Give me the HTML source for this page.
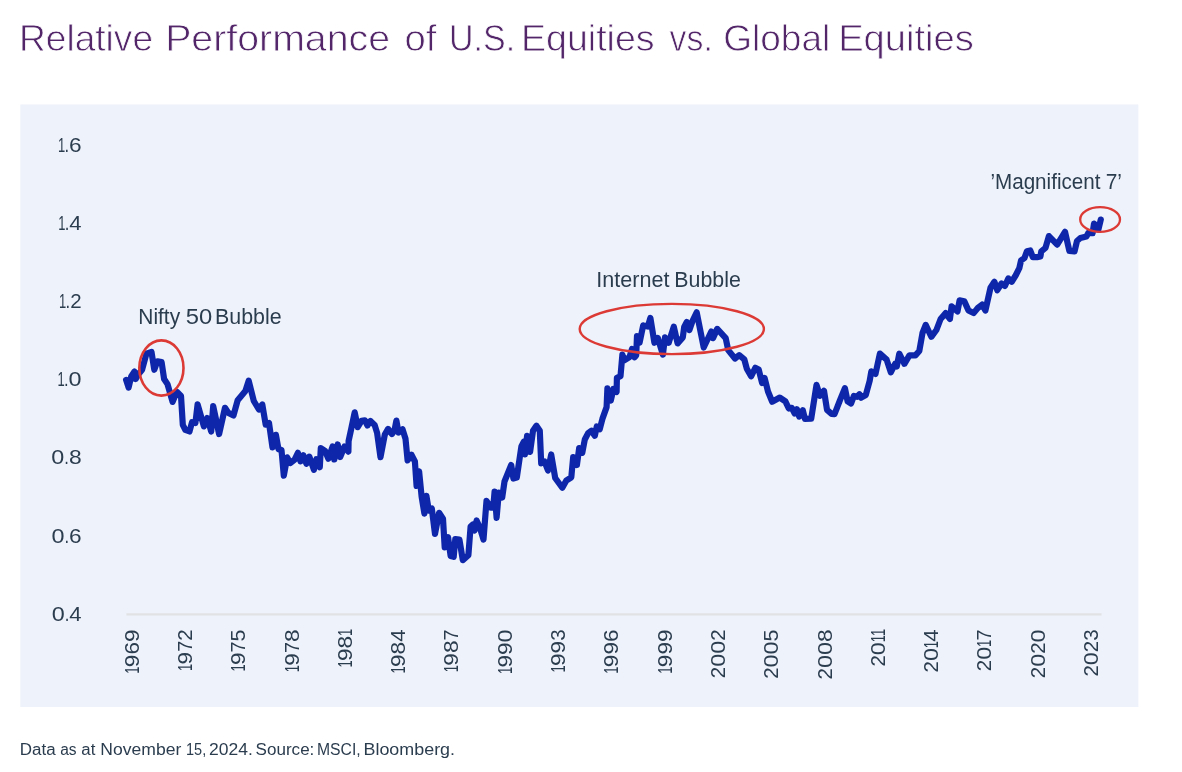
<!DOCTYPE html>
<html lang="en">
<head>
<meta charset="utf-8">
<title>Relative Performance of U.S. Equities vs. Global Equities</title>
<style>
html,body{margin:0;padding:0;background:#fff;}
body{width:1182px;height:772px;overflow:hidden;}
svg{display:block;}
text{font-family:"Liberation Sans",sans-serif;}
</style>
</head>
<body>
<svg width="1182" height="772" viewBox="0 0 1182 772">
<defs><filter id="soft" x="0" y="0" width="1182" height="772" filterUnits="userSpaceOnUse"><feGaussianBlur stdDeviation="0.5"/></filter></defs>
<rect x="0" y="0" width="1182" height="772" fill="#ffffff"/>
<g filter="url(#soft)">
<text y="51.4" font-size="37.5" fill="#52256a" stroke="#ffffff" stroke-width="0.8"><tspan x="18.96" textLength="134.09" lengthAdjust="spacingAndGlyphs">Relative</tspan> <tspan x="165.18" textLength="224.87" lengthAdjust="spacingAndGlyphs">Performance</tspan> <tspan x="404.49" textLength="31.95" lengthAdjust="spacingAndGlyphs">of</tspan> <tspan x="449.08" textLength="66.02" lengthAdjust="spacingAndGlyphs">U.S.</tspan> <tspan x="520.92" textLength="133.74" lengthAdjust="spacingAndGlyphs">Equities</tspan> <tspan x="669.58" textLength="43.20" lengthAdjust="spacingAndGlyphs">vs.</tspan> <tspan x="723.24" textLength="107.04" lengthAdjust="spacingAndGlyphs">Global</tspan> <tspan x="838.17" textLength="135.71" lengthAdjust="spacingAndGlyphs">Equities</tspan></text>
<rect x="20.3" y="104.4" width="1118.1" height="602.6" fill="#eef2fa"/>
<line x1="126.4" y1="614.4" x2="1101.5" y2="614.4" stroke="#e0e2e4" stroke-width="2.2"/>
<text y="152.0" font-size="21.0" fill="#2c3d4f"><tspan x="57.90" textLength="7.20" lengthAdjust="spacingAndGlyphs">1</tspan><tspan x="64.40" textLength="4.60" lengthAdjust="spacingAndGlyphs">.</tspan><tspan x="69.00" textLength="12.60" lengthAdjust="spacingAndGlyphs">6</tspan></text>
<text y="230.1" font-size="21.0" fill="#2c3d4f"><tspan x="58.20" textLength="7.20" lengthAdjust="spacingAndGlyphs">1</tspan><tspan x="64.70" textLength="4.60" lengthAdjust="spacingAndGlyphs">.</tspan><tspan x="69.30" textLength="12.30" lengthAdjust="spacingAndGlyphs">4</tspan></text>
<text y="308.2" font-size="21.0" fill="#2c3d4f"><tspan x="59.10" textLength="7.20" lengthAdjust="spacingAndGlyphs">1</tspan><tspan x="65.60" textLength="4.60" lengthAdjust="spacingAndGlyphs">.</tspan><tspan x="70.20" textLength="11.40" lengthAdjust="spacingAndGlyphs">2</tspan></text>
<text y="386.3" font-size="21.0" fill="#2c3d4f"><tspan x="57.50" textLength="7.20" lengthAdjust="spacingAndGlyphs">1</tspan><tspan x="64.00" textLength="4.60" lengthAdjust="spacingAndGlyphs">.</tspan><tspan x="68.60" textLength="13.00" lengthAdjust="spacingAndGlyphs">0</tspan></text>
<text y="464.4" font-size="21.0" fill="#2c3d4f"><tspan x="51.30" textLength="13.00" lengthAdjust="spacingAndGlyphs">0</tspan><tspan x="64.30" textLength="4.60" lengthAdjust="spacingAndGlyphs">.</tspan><tspan x="68.90" textLength="12.70" lengthAdjust="spacingAndGlyphs">8</tspan></text>
<text y="542.5" font-size="21.0" fill="#2c3d4f"><tspan x="51.40" textLength="13.00" lengthAdjust="spacingAndGlyphs">0</tspan><tspan x="64.40" textLength="4.60" lengthAdjust="spacingAndGlyphs">.</tspan><tspan x="69.00" textLength="12.60" lengthAdjust="spacingAndGlyphs">6</tspan></text>
<text y="620.6" font-size="21.0" fill="#2c3d4f"><tspan x="51.70" textLength="13.00" lengthAdjust="spacingAndGlyphs">0</tspan><tspan x="64.70" textLength="4.60" lengthAdjust="spacingAndGlyphs">.</tspan><tspan x="69.30" textLength="12.30" lengthAdjust="spacingAndGlyphs">4</tspan></text>
<text transform="translate(138.6,629.4) rotate(-90)" font-size="21.0" fill="#2c3d4f"><tspan x="-44.30" textLength="7.20" lengthAdjust="spacingAndGlyphs">1</tspan><tspan x="-37.80" textLength="12.60" lengthAdjust="spacingAndGlyphs">9</tspan><tspan x="-25.20" textLength="12.60" lengthAdjust="spacingAndGlyphs">6</tspan><tspan x="-12.60" textLength="12.60" lengthAdjust="spacingAndGlyphs">9</tspan></text>
<text transform="translate(191.9,629.4) rotate(-90)" font-size="21.0" fill="#2c3d4f"><tspan x="-41.50" textLength="7.20" lengthAdjust="spacingAndGlyphs">1</tspan><tspan x="-35.00" textLength="12.60" lengthAdjust="spacingAndGlyphs">9</tspan><tspan x="-22.40" textLength="11.00" lengthAdjust="spacingAndGlyphs">7</tspan><tspan x="-11.40" textLength="11.40" lengthAdjust="spacingAndGlyphs">2</tspan></text>
<text transform="translate(245.2,629.4) rotate(-90)" font-size="21.0" fill="#2c3d4f"><tspan x="-42.10" textLength="7.20" lengthAdjust="spacingAndGlyphs">1</tspan><tspan x="-35.60" textLength="12.60" lengthAdjust="spacingAndGlyphs">9</tspan><tspan x="-23.00" textLength="11.00" lengthAdjust="spacingAndGlyphs">7</tspan><tspan x="-12.00" textLength="12.00" lengthAdjust="spacingAndGlyphs">5</tspan></text>
<text transform="translate(298.5,629.4) rotate(-90)" font-size="21.0" fill="#2c3d4f"><tspan x="-42.80" textLength="7.20" lengthAdjust="spacingAndGlyphs">1</tspan><tspan x="-36.30" textLength="12.60" lengthAdjust="spacingAndGlyphs">9</tspan><tspan x="-23.70" textLength="11.00" lengthAdjust="spacingAndGlyphs">7</tspan><tspan x="-12.70" textLength="12.70" lengthAdjust="spacingAndGlyphs">8</tspan></text>
<text transform="translate(351.8,629.4) rotate(-90)" font-size="21.0" fill="#2c3d4f"><tspan x="-38.20" textLength="7.20" lengthAdjust="spacingAndGlyphs">1</tspan><tspan x="-31.70" textLength="12.60" lengthAdjust="spacingAndGlyphs">9</tspan><tspan x="-19.10" textLength="12.70" lengthAdjust="spacingAndGlyphs">8</tspan><tspan x="-6.50" textLength="7.20" lengthAdjust="spacingAndGlyphs">1</tspan></text>
<text transform="translate(405.1,629.4) rotate(-90)" font-size="21.0" fill="#2c3d4f"><tspan x="-44.10" textLength="7.20" lengthAdjust="spacingAndGlyphs">1</tspan><tspan x="-37.60" textLength="12.60" lengthAdjust="spacingAndGlyphs">9</tspan><tspan x="-25.00" textLength="12.70" lengthAdjust="spacingAndGlyphs">8</tspan><tspan x="-12.30" textLength="12.30" lengthAdjust="spacingAndGlyphs">4</tspan></text>
<text transform="translate(458.4,629.4) rotate(-90)" font-size="21.0" fill="#2c3d4f"><tspan x="-42.80" textLength="7.20" lengthAdjust="spacingAndGlyphs">1</tspan><tspan x="-36.30" textLength="12.60" lengthAdjust="spacingAndGlyphs">9</tspan><tspan x="-23.70" textLength="12.70" lengthAdjust="spacingAndGlyphs">8</tspan><tspan x="-11.00" textLength="11.00" lengthAdjust="spacingAndGlyphs">7</tspan></text>
<text transform="translate(511.7,629.4) rotate(-90)" font-size="21.0" fill="#2c3d4f"><tspan x="-44.70" textLength="7.20" lengthAdjust="spacingAndGlyphs">1</tspan><tspan x="-38.20" textLength="12.60" lengthAdjust="spacingAndGlyphs">9</tspan><tspan x="-25.60" textLength="12.60" lengthAdjust="spacingAndGlyphs">9</tspan><tspan x="-13.00" textLength="13.00" lengthAdjust="spacingAndGlyphs">0</tspan></text>
<text transform="translate(565.0,629.4) rotate(-90)" font-size="21.0" fill="#2c3d4f"><tspan x="-43.10" textLength="7.20" lengthAdjust="spacingAndGlyphs">1</tspan><tspan x="-36.60" textLength="12.60" lengthAdjust="spacingAndGlyphs">9</tspan><tspan x="-24.00" textLength="12.60" lengthAdjust="spacingAndGlyphs">9</tspan><tspan x="-11.40" textLength="11.40" lengthAdjust="spacingAndGlyphs">3</tspan></text>
<text transform="translate(618.3,629.4) rotate(-90)" font-size="21.0" fill="#2c3d4f"><tspan x="-44.30" textLength="7.20" lengthAdjust="spacingAndGlyphs">1</tspan><tspan x="-37.80" textLength="12.60" lengthAdjust="spacingAndGlyphs">9</tspan><tspan x="-25.20" textLength="12.60" lengthAdjust="spacingAndGlyphs">9</tspan><tspan x="-12.60" textLength="12.60" lengthAdjust="spacingAndGlyphs">6</tspan></text>
<text transform="translate(671.6,629.4) rotate(-90)" font-size="21.0" fill="#2c3d4f"><tspan x="-44.30" textLength="7.20" lengthAdjust="spacingAndGlyphs">1</tspan><tspan x="-37.80" textLength="12.60" lengthAdjust="spacingAndGlyphs">9</tspan><tspan x="-25.20" textLength="12.60" lengthAdjust="spacingAndGlyphs">9</tspan><tspan x="-12.60" textLength="12.60" lengthAdjust="spacingAndGlyphs">9</tspan></text>
<text transform="translate(724.9,629.4) rotate(-90)" font-size="21.0" fill="#2c3d4f"><tspan x="-48.80" textLength="11.40" lengthAdjust="spacingAndGlyphs">2</tspan><tspan x="-37.40" textLength="13.00" lengthAdjust="spacingAndGlyphs">0</tspan><tspan x="-24.40" textLength="13.00" lengthAdjust="spacingAndGlyphs">0</tspan><tspan x="-11.40" textLength="11.40" lengthAdjust="spacingAndGlyphs">2</tspan></text>
<text transform="translate(778.2,629.4) rotate(-90)" font-size="21.0" fill="#2c3d4f"><tspan x="-49.40" textLength="11.40" lengthAdjust="spacingAndGlyphs">2</tspan><tspan x="-38.00" textLength="13.00" lengthAdjust="spacingAndGlyphs">0</tspan><tspan x="-25.00" textLength="13.00" lengthAdjust="spacingAndGlyphs">0</tspan><tspan x="-12.00" textLength="12.00" lengthAdjust="spacingAndGlyphs">5</tspan></text>
<text transform="translate(831.5,629.4) rotate(-90)" font-size="21.0" fill="#2c3d4f"><tspan x="-50.10" textLength="11.40" lengthAdjust="spacingAndGlyphs">2</tspan><tspan x="-38.70" textLength="13.00" lengthAdjust="spacingAndGlyphs">0</tspan><tspan x="-25.70" textLength="13.00" lengthAdjust="spacingAndGlyphs">0</tspan><tspan x="-12.70" textLength="12.70" lengthAdjust="spacingAndGlyphs">8</tspan></text>
<text transform="translate(884.8,629.4) rotate(-90)" font-size="21.0" fill="#2c3d4f"><tspan x="-37.20" textLength="11.40" lengthAdjust="spacingAndGlyphs">2</tspan><tspan x="-25.80" textLength="13.00" lengthAdjust="spacingAndGlyphs">0</tspan><tspan x="-12.90" textLength="7.20" lengthAdjust="spacingAndGlyphs">1</tspan><tspan x="-6.50" textLength="7.20" lengthAdjust="spacingAndGlyphs">1</tspan></text>
<text transform="translate(938.1,629.4) rotate(-90)" font-size="21.0" fill="#2c3d4f"><tspan x="-43.10" textLength="11.40" lengthAdjust="spacingAndGlyphs">2</tspan><tspan x="-31.70" textLength="13.00" lengthAdjust="spacingAndGlyphs">0</tspan><tspan x="-18.80" textLength="7.20" lengthAdjust="spacingAndGlyphs">1</tspan><tspan x="-12.30" textLength="12.30" lengthAdjust="spacingAndGlyphs">4</tspan></text>
<text transform="translate(991.4,629.4) rotate(-90)" font-size="21.0" fill="#2c3d4f"><tspan x="-41.80" textLength="11.40" lengthAdjust="spacingAndGlyphs">2</tspan><tspan x="-30.40" textLength="13.00" lengthAdjust="spacingAndGlyphs">0</tspan><tspan x="-17.50" textLength="7.20" lengthAdjust="spacingAndGlyphs">1</tspan><tspan x="-11.00" textLength="11.00" lengthAdjust="spacingAndGlyphs">7</tspan></text>
<text transform="translate(1044.7,629.4) rotate(-90)" font-size="21.0" fill="#2c3d4f"><tspan x="-48.80" textLength="11.40" lengthAdjust="spacingAndGlyphs">2</tspan><tspan x="-37.40" textLength="13.00" lengthAdjust="spacingAndGlyphs">0</tspan><tspan x="-24.40" textLength="11.40" lengthAdjust="spacingAndGlyphs">2</tspan><tspan x="-13.00" textLength="13.00" lengthAdjust="spacingAndGlyphs">0</tspan></text>
<text transform="translate(1098.0,629.4) rotate(-90)" font-size="21.0" fill="#2c3d4f"><tspan x="-47.20" textLength="11.40" lengthAdjust="spacingAndGlyphs">2</tspan><tspan x="-35.80" textLength="13.00" lengthAdjust="spacingAndGlyphs">0</tspan><tspan x="-22.80" textLength="11.40" lengthAdjust="spacingAndGlyphs">2</tspan><tspan x="-11.40" textLength="11.40" lengthAdjust="spacingAndGlyphs">3</tspan></text>
<path d="M126.1,379.9 L128.6,387.5 L131.2,376.5 L134.5,371.5 L135.7,379.0 L138.0,374.8 L142.1,369.8 L146.4,353.7 L151.5,352.0 L154.3,369.8 L157.4,361.3 L161.6,362.1 L164.1,379.0 L167.5,384.1 L172.6,401.9 L176.8,391.8 L181.0,396.0 L182.8,424.8 L185.3,429.8 L189.5,431.5 L192.0,422.2 L195.4,423.0 L197.6,404.4 L203.9,426.4 L207.3,418.0 L211.2,431.5 L213.2,406.1 L219.1,434.0 L225.0,407.8 L228.4,412.9 L233.5,415.4 L237.7,400.2 L245.4,390.9 L248.7,380.8 L253.8,401.0 L258.9,409.5 L262.3,404.4 L265.7,424.7 L269.0,423.0 L272.5,447.5 L275.9,434.8 L278.5,449.2 L281.5,450.0 L283.8,475.6 L287.2,457.4 L290.3,463.0 L294.5,459.8 L297.9,452.8 L300.5,461.3 L303.4,455.3 L306.4,463.8 L309.3,456.6 L313.9,469.8 L316.4,459.2 L319.8,467.2 L320.8,448.2 L325.0,450.8 L328.4,458.7 L332.6,446.4 L334.3,459.5 L337.7,444.4 L340.2,457.0 L344.5,446.5 L348.4,451.6 L348.6,441.0 L351.2,429.0 L354.7,412.4 L357.7,427.2 L361.5,420.9 L364.9,420.4 L367.4,425.5 L370.4,420.9 L374.6,424.9 L377.1,432.9 L380.5,457.2 L384.8,434.6 L388.1,428.9 L392.0,434.0 L394.5,430.4 L396.4,420.6 L398.5,432.5 L402.5,429.3 L405.5,438.8 L407.6,460.4 L411.4,454.7 L414.9,461.5 L416.6,486.0 L419.1,471.3 L421.6,496.5 L424.4,513.6 L426.4,495.8 L428.8,510.6 L431.8,508.5 L435.0,533.9 L439.1,512.8 L443.0,518.7 L444.7,547.4 L448.1,537.3 L450.6,555.9 L453.7,556.8 L455.3,539.0 L459.4,539.5 L462.8,560.1 L468.4,555.1 L470.6,526.5 L472.8,524.5 L474.6,530.5 L476.6,520.5 L480.0,528.0 L483.5,539.6 L486.5,500.9 L490.9,507.7 L493.2,507.7 L494.6,491.6 L496.6,517.8 L498.8,492.5 L502.2,497.5 L504.5,481.5 L511.2,465.0 L513.4,478.5 L516.8,477.6 L518.5,466.0 L521.4,446.4 L523.7,441.8 L525.0,454.5 L527.1,435.8 L530.1,451.9 L533.0,430.8 L536.4,425.7 L539.8,430.8 L541.2,463.3 L544.6,461.6 L548.0,470.5 L551.2,454.5 L555.2,478.0 L562.3,487.8 L566.2,480.7 L571.3,477.3 L573.2,457.0 L576.9,465.0 L579.2,448.0 L582.3,452.8 L584.8,439.5 L588.0,433.3 L591.4,430.8 L594.8,435.8 L596.8,426.5 L599.8,429.1 L602.4,418.9 L606.6,407.1 L607.4,388.3 L610.8,400.5 L613.4,389.0 L616.6,392.0 L616.9,377.8 L620.5,376.2 L622.4,354.6 L624.2,360.4 L629.5,357.2 L632.0,349.0 L634.6,357.2 L636.2,355.2 L637.0,336.0 L639.6,342.6 L643.2,325.4 L647.8,326.6 L650.4,318.0 L654.4,342.8 L657.8,338.0 L662.9,354.6 L665.0,337.4 L668.7,342.8 L673.8,326.8 L677.6,343.4 L682.8,337.4 L684.2,327.0 L686.8,322.0 L689.4,330.0 L692.7,320.5 L696.7,312.3 L703.7,347.5 L711.3,331.5 L713.0,338.2 L717.2,328.9 L725.7,338.2 L728.2,350.1 L735.0,358.5 L739.2,355.1 L744.3,359.4 L746.8,368.7 L751.1,376.3 L755.3,367.8 L758.7,369.5 L762.1,383.0 L764.6,378.0 L768.0,391.5 L772.2,401.7 L779.8,397.6 L785.4,401.4 L788.8,408.5 L791.8,407.8 L794.6,413.5 L796.9,409.2 L799.2,416.5 L802.8,410.2 L805.0,419.0 L811.2,418.7 L816.5,384.9 L820.0,395.8 L824.0,390.8 L827.0,409.8 L831.6,413.8 L834.5,414.1 L836.7,408.7 L840.0,400.1 L844.9,388.2 L847.6,401.4 L851.1,403.5 L853.9,395.9 L857.0,396.8 L859.5,394.2 L861.2,397.7 L865.8,395.0 L869.7,380.8 L871.3,371.4 L875.5,373.9 L879.9,353.6 L886.6,359.6 L890.8,372.3 L895.1,363.8 L896.8,366.4 L899.3,353.7 L904.4,363.8 L909.4,355.4 L915.4,355.4 L919.3,351.0 L922.5,333.0 L925.7,324.9 L931.3,336.8 L936.4,330.0 L940.6,319.0 L945.7,313.1 L949.9,319.0 L951.6,306.3 L957.5,311.4 L959.6,300.4 L964.3,301.2 L968.5,310.5 L973.6,313.1 L977.8,308.0 L982.1,304.6 L985.4,310.5 L990.5,287.7 L994.4,281.8 L997.3,290.2 L1001.5,283.5 L1004.9,286.0 L1008.3,278.4 L1011.7,281.8 L1015.9,275.0 L1019.3,268.2 L1021.0,260.6 L1024.4,258.1 L1026.9,251.3 L1030.3,250.5 L1032.8,257.2 L1037.0,257.2 L1040.4,256.4 L1041.3,251.3 L1045.5,247.9 L1048.9,236.1 L1057.2,244.6 L1065.0,231.8 L1069.4,251.0 L1074.5,251.5 L1077.0,241.0 L1080.4,238.0 L1086.4,236.6 L1088.6,232.6 L1092.6,233.2 L1094.0,223.6 L1097.0,226.0 L1098.4,229.5 L1100.8,219.6" fill="none" stroke="#0f28aa" stroke-width="6.2" stroke-linejoin="round" stroke-linecap="round"/>
<ellipse cx="161.4" cy="368" rx="22.1" ry="27.6" fill="none" stroke="#dc3a35" stroke-width="2.6"/>
<ellipse cx="671.8" cy="329.0" rx="92.1" ry="25.1" fill="none" stroke="#dc3a35" stroke-width="2.4"/>
<ellipse cx="1100.1" cy="219.5" rx="19.9" ry="12.3" fill="none" stroke="#dc3a35" stroke-width="2.3"/>
<text y="323.5" font-size="21.8" fill="#2c3d4f"><tspan x="138.28" textLength="41.86" lengthAdjust="spacingAndGlyphs">Nifty</tspan> <tspan x="185.85" textLength="26.48" lengthAdjust="spacingAndGlyphs">50</tspan> <tspan x="215.05" textLength="66.61" lengthAdjust="spacingAndGlyphs">Bubble</tspan></text>
<text y="287.1" font-size="21.8" fill="#2c3d4f"><tspan x="596.31" textLength="73.15" lengthAdjust="spacingAndGlyphs">Internet</tspan> <tspan x="674.35" textLength="66.50" lengthAdjust="spacingAndGlyphs">Bubble</tspan></text>
<text y="189.1" font-size="21.8" fill="#2c3d4f"><tspan x="990.42" textLength="110.03" lengthAdjust="spacingAndGlyphs">’Magnificent</tspan> <tspan x="1105.63" textLength="16.27" lengthAdjust="spacingAndGlyphs">7’</tspan></text>
<text y="755.4" font-size="15.6" fill="#2c3d4f"><tspan x="19.81" textLength="35.89" lengthAdjust="spacingAndGlyphs">Data</tspan> <tspan x="60.14" textLength="16.42" lengthAdjust="spacingAndGlyphs">as</tspan> <tspan x="81.38" textLength="14.04" lengthAdjust="spacingAndGlyphs">at</tspan> <tspan x="100.36" textLength="80.93" lengthAdjust="spacingAndGlyphs">November</tspan> <tspan x="185.99" textLength="20.21" lengthAdjust="spacingAndGlyphs">15,</tspan> <tspan x="209.12" textLength="43.78" lengthAdjust="spacingAndGlyphs">2024.</tspan> <tspan x="255.63" textLength="58.73" lengthAdjust="spacingAndGlyphs">Source:</tspan> <tspan x="317.01" textLength="43.70" lengthAdjust="spacingAndGlyphs">MSCI,</tspan> <tspan x="363.53" textLength="91.50" lengthAdjust="spacingAndGlyphs">Bloomberg.</tspan></text>
</g>
</svg>
</body>
</html>
